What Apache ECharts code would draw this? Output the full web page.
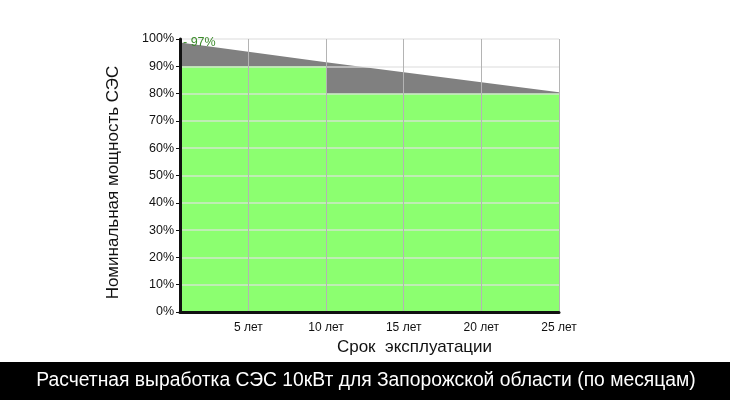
<!DOCTYPE html>
<html><head><meta charset="utf-8">
<script src="https://cdn.jsdelivr.net/npm/echarts@6/dist/echarts.min.js"></script>
<style>html,body{margin:0;padding:0;background:#fff}#c{width:730px;height:400px}</style>
</head><body><div id="c"></div>
<script>
const xTickValues = [5, 10, 15, 20, 25];
const yTickValues = [0, 10, 20, 30, 40, 50, 60, 70, 80, 90, 100];
const degradationYears = [0.6, 10, 25];
const degradationValues = [98.7, 91.5, 80.5];
const guaranteeYears = [0.6, 10, 10, 25];
const guaranteeValues = [90, 90, 80, 80];
const startLabel = '97%';
const titleText = 'Расчетная выработка СЭС 10кВт для Запорожской области (по месяцам)';
const xName = 'Срок  эксплуатации';
const yName = 'Номинальная мощность СЭС';

const FONT = 'Liberation Sans';
const chart = echarts.init(document.getElementById('c'), null, {renderer: 'canvas'});
chart.setOption({
  animation: false,
  backgroundColor: '#fff',
  textStyle: {fontFamily: FONT},
  grid: {left: 180, right: 171, top: 39, bottom: 88},
  xAxis: {
    type: 'value', min: 0.6, max: 25, z: 5,
    name: xName, nameLocation: 'middle', nameGap: 21,
    nameTextStyle: {fontSize: 17, color: '#111', fontFamily: FONT, padding: [0, 0, 0, 90]},
    axisLine: {show: true, onZero: false, lineStyle: {color: '#111', width: 3}},
    axisTick: {show: false, customValues: xTickValues},
    axisLabel: {customValues: xTickValues, formatter: v => v + ' лет', color: '#111', fontSize: 12, margin: 10},
    splitLine: {show: true, lineStyle: {color: '#b4b4b4', width: 1}}
  },
  yAxis: {
    type: 'value', min: 0, max: 100, interval: 10, z: 4,
    name: yName, nameLocation: 'middle', nameGap: 58, nameRotate: 90,
    nameTextStyle: {fontSize: 17, color: '#111', fontFamily: FONT, padding: [0, 0, 0, -14]},
    axisLine: {show: true, lineStyle: {color: '#111', width: 3}},
    axisTick: {show: true, inside: false, length: 4, lineStyle: {color: '#111', width: 1}},
    axisLabel: {formatter: '{value}%', color: '#111', fontSize: 12.5, margin: 6},
    splitLine: {show: true, lineStyle: {color: 'rgba(225,225,225,0.6)', width: 2}}
  },
  series: [
    {
      type: 'line', z: 1,
      data: degradationYears.map((x, i) => [x, degradationValues[i]]),
      symbol: 'none', lineStyle: {width: 0}, areaStyle: {color: '#808080', opacity: 1},
      markPoint: {
        symbol: 'rect', symbolSize: [0, 0],
        data: [{coord: [degradationYears[0], 97], value: startLabel}],
        label: {show: true, position: 'right', distance: 3, offset: [0, -5], formatter: '- ' + startLabel, color: '#3a8a2a', fontSize: 12.5}
      }
    },
    {
      type: 'line', z: 2,
      data: guaranteeYears.map((x, i) => [x, guaranteeValues[i]]),
      symbol: 'none', lineStyle: {width: 0}, areaStyle: {color: '#8cff70', opacity: 1}
    }
  ],
  graphic: [
    {type: 'rect', left: 0, top: 362, shape: {width: 730, height: 38}, style: {fill: '#000'}, z: 10},
    {type: 'text', x: 366, y: 381, z: 11, style: {text: titleText, fill: '#fff', font: '19.3px "' + FONT + '"', align: 'center', verticalAlign: 'middle'}}
  ]
});
</script></body></html>
